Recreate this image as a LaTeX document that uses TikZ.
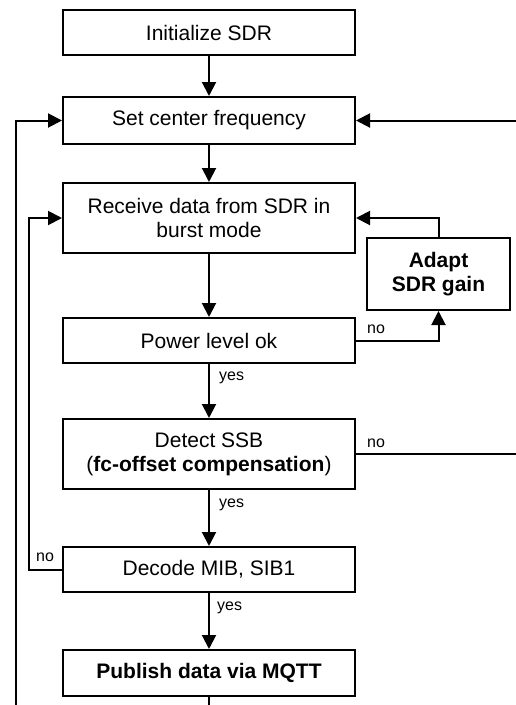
\documentclass[tikz,border=0pt]{standalone}
\usepackage{fontspec}
\setmainfont{Liberation Sans}
\usetikzlibrary{arrows.meta}
\tikzset{
  stepbox/.style={draw, line width=2pt, minimum width=292pt, inner sep=0pt, align=center, font=\fontsize{21}{24}\selectfont},
  lbl/.style={anchor=west, inner sep=0pt, font=\fontsize{16}{18}\selectfont},
  flow/.style={line width=2pt, -{Triangle[width=14pt,length=14pt]}},
  line/.style={line width=2pt},
}
\begin{document}
\begin{tikzpicture}[x=1pt,y=-1pt]
\useasboundingbox (0,0) rectangle (516,705);
\node [stepbox, minimum height=45pt] (init) at (209,32.5) {Initialize SDR};
\node [stepbox, minimum height=47pt] (setfc) at (209,120.5) {Set center frequency};
\node [stepbox, minimum height=70pt] (recv) at (209,218) {Receive data from SDR in\\burst mode};
\node [stepbox, minimum width=143pt, minimum height=72pt, font=\fontsize{21}{24}\selectfont\bfseries] (gain) at (438.5,274) {Adapt\\SDR gain};
\node [stepbox, minimum height=45pt] (power) at (209,340.5) {Power level ok};
\node [stepbox, minimum height=70pt] (detect) at (209,454) {Detect SSB\\(\textbf{fc-offset compensation})};
\node [stepbox, minimum height=45pt] (decode) at (209,569.5) {Decode MIB, SIB1};
\node [stepbox, minimum height=46pt] (publish) at (209,673) {\textbf{Publish data via MQTT}};
\coordinate (outer) at (16,705);
\coordinate (back) at (516,120.5);
\coordinate (skip) at (516,454);
\coordinate (cont) at (209,705);
% main flow
\draw[flow] (init) -- (setfc);
\draw[flow] (setfc) -- (recv);
\draw[flow] (recv) -- (power);
\draw[flow] (power) -- (detect);
\draw[flow] (detect) -- (decode);
\draw[flow] (decode) -- (publish);
\draw[line] (publish) -- (cont);
% loops
\draw[flow] (back) -- (setfc);
\draw[flow] (outer) |- (setfc);
\draw[flow] (power.east) -| (gain.south);
\draw[flow] (gain.north) |- (recv.east);
\draw[flow] (decode.west) -- ++(-33,0) |- (recv.west);
\draw[line] (detect.east) -- (skip);
% labels
\node [lbl] at (219,378) {yes};
\node [lbl] at (219,505) {yes};
\node [lbl] at (217,608) {yes};
\node [lbl] at (367,329) {no};
\node [lbl] at (367,443) {no};
\node [lbl] at (36,557) {no};
\end{tikzpicture}
\end{document}
